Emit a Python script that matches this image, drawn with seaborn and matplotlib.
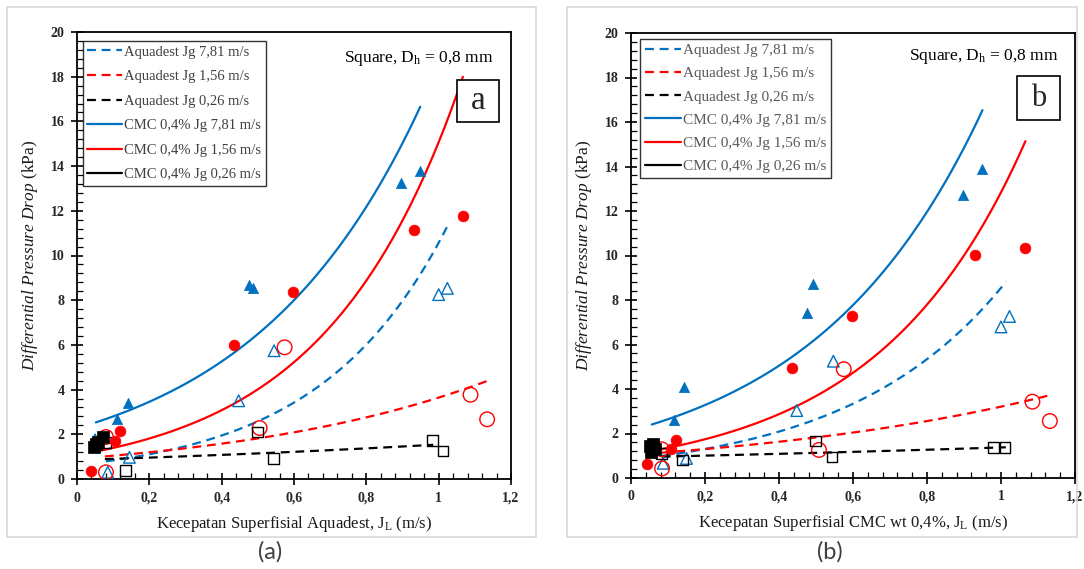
import numpy as np
import matplotlib
matplotlib.use("Agg")
import matplotlib.pyplot as plt
import seaborn as sns
from matplotlib.patches import Rectangle
from matplotlib.ticker import MultipleLocator, FuncFormatter
from matplotlib.lines import Line2D

sns.set_theme(style="white")
plt.rcParams['font.family'] = ['Liberation Serif', 'DejaVu Serif']
plt.rcParams['mathtext.fontset'] = 'custom'
plt.rcParams['mathtext.rm'] = 'Liberation Serif'
plt.rcParams['mathtext.it'] = 'Liberation Serif:italic'
plt.rcParams['mathtext.bf'] = 'Liberation Serif:bold'

# ---------------- data ----------------
labels = ["Aquadest Jg 7,81 m/s", "Aquadest Jg 1,56 m/s", "Aquadest Jg 0,26 m/s",
          "CMC 0,4% Jg 7,81 m/s", "CMC 0,4% Jg 1,56 m/s", "CMC 0,4% Jg 0,26 m/s"]

# panel (a)
a_aq781_x = [0.050, 0.085, 0.145, 0.447, 0.545, 1.000, 1.024]
a_aq781_y = [1.75, 0.30, 0.97, 3.50, 5.74, 8.25, 8.53]
a_aq156_x = [0.080, 0.080, 0.505, 0.574, 1.088, 1.134]
a_aq156_y = [0.30, 1.88, 2.28, 5.89, 3.77, 2.67]
a_aq026_x = [0.079, 0.135, 0.499, 0.543, 0.982, 1.012]
a_aq026_y = [1.64, 0.37, 2.10, 0.92, 1.71, 1.25]
a_cmc781_x = [0.110, 0.140, 0.475, 0.488, 0.895, 0.948]
a_cmc781_y = [2.70, 3.40, 8.70, 8.53, 13.25, 13.76]
a_cmc156_x = [0.040, 0.105, 0.119, 0.434, 0.597, 0.932, 1.067]
a_cmc156_y = [0.37, 1.70, 2.15, 6.00, 8.35, 11.15, 11.78]
a_cmc026_x = [0.047, 0.052, 0.057, 0.073]
a_cmc026_y = [1.45, 1.55, 1.65, 1.88]
# exponential trend lines y = A*exp(B*x), drawn from x0 to x1
a_trend_A = [0.63, 0.907, 0.85, 2.27, 1.068, 0.906]
a_trend_B = [2.82, 1.39, 0.597, 2.10, 2.647, 10.0]
a_trend_x0 = [0.080, 0.077, 0.077, 0.052, 0.041, 0.047]
a_trend_x1 = [1.026, 1.136, 0.985, 0.949, 1.067, 0.073]

# panel (b)
b_aq781_x = [0.087, 0.150, 0.448, 0.547, 1.000, 1.023]
b_aq781_y = [0.66, 0.88, 3.03, 5.25, 6.79, 7.26]
b_aq156_x = [0.084, 0.083, 0.508, 0.575, 1.085, 1.132]
b_aq156_y = [0.43, 1.29, 1.26, 4.89, 3.43, 2.56]
b_aq026_x = [0.083, 0.139, 0.499, 0.543, 0.980, 1.011]
b_aq026_y = [1.11, 0.81, 1.66, 0.94, 1.36, 1.36]
b_cmc781_x = [0.115, 0.144, 0.477, 0.491, 0.896, 0.949]
b_cmc781_y = [2.60, 4.09, 7.42, 8.74, 12.74, 13.87]
b_cmc156_x = [0.044, 0.109, 0.122, 0.435, 0.597, 0.930, 1.066]
b_cmc156_y = [0.63, 1.29, 1.71, 4.96, 7.30, 10.03, 10.33]
b_cmc026_x = [0.050, 0.055, 0.060, 0.065]
b_cmc026_y = [1.42, 1.18, 1.55, 1.30]
b_trend_A = [0.815, 1.038, 0.93, 2.13, 1.057, 0.57]
b_trend_B = [2.35, 1.128, 0.39, 2.157, 2.497, 14.9]
b_trend_x0 = [0.083, 0.083, 0.083, 0.056, 0.044, 0.050]
b_trend_x1 = [1.013, 1.134, 1.013, 0.950, 1.066, 0.065]

x_ticks = [0, 0.2, 0.4, 0.6, 0.8, 1.0, 1.2]
y_ticks = list(range(0, 21, 2))

# ---------------- styling ----------------
BLUE = "#0070C0"
RED = "#FF0000"
BLACK = "#000000"
line_colors = [BLUE, RED, BLACK, BLUE, RED, BLACK]
line_styles = [(0, (4, 2.6))] * 3 + ["-"] * 3


def fmt(v, pos):
    if abs(v) < 1e-9:
        return "0"
    if abs(v - round(v)) < 1e-9:
        return str(int(round(v)))
    return f"{v:.1f}".replace(".", ",")


fig = plt.figure(figsize=(10.84, 5.69), dpi=100)
fig.patch.set_facecolor("white")

# panel frames
for x0, x1 in [(7, 536), (567, 1077)]:
    fig.patches.append(Rectangle((x0 / 1084, 1 - 537 / 569), (x1 - x0) / 1084, 530 / 569,
                                 transform=fig.transFigure, fill=False,
                                 ec="#d9d9d9", lw=1.2, zorder=0))

axA = fig.add_axes([77 / 1084, 1 - 479 / 569, 434 / 1084, 447 / 569])
axB = fig.add_axes([631 / 1084, 1 - 478 / 569, 444 / 1084, 445 / 569])

panels = [
    (axA, [(a_aq781_x, a_aq781_y), (a_aq156_x, a_aq156_y), (a_aq026_x, a_aq026_y),
           (a_cmc781_x, a_cmc781_y), (a_cmc156_x, a_cmc156_y), (a_cmc026_x, a_cmc026_y)],
     (a_trend_A, a_trend_B, a_trend_x0, a_trend_x1),
     r"Kecepatan Superfisial Aquadest, J$_\mathrm{L}$ (m/s)", "a", "#404040",
     (83, 41), (419, 58), (457, 80, 42, 42), 24, 10.5, 0.78),
    (axB, [(b_aq781_x, b_aq781_y), (b_aq156_x, b_aq156_y), (b_aq026_x, b_aq026_y),
           (b_cmc781_x, b_cmc781_y), (b_cmc156_x, b_cmc156_y), (b_cmc026_x, b_cmc026_y)],
     (b_trend_A, b_trend_B, b_trend_x0, b_trend_x1),
     r"Kecepatan Superfisial CMC wt 0,4%, J$_\mathrm{L}$ (m/s)", "b", "#595959",
     (640, 39), (984, 57), (1017, 76, 43, 44), 22, 11, 0.62),
]

marker_specs = [
    dict(marker="^", s=70, facecolors="none", edgecolors=BLUE, linewidths=1.0),
    dict(marker="o", s=110, facecolors="none", edgecolors=RED, linewidths=1.0),
    dict(marker="s", s=60, facecolors="none", edgecolors=BLACK, linewidths=1.0),
    dict(marker="^", s=55, color=BLUE, edgecolor=BLUE, linewidth=0.5),
    dict(marker="o", s=60, color=RED, edgecolor=RED, linewidth=0.5),
    dict(marker="s", s=75, color=BLACK, edgecolor=BLACK, linewidth=0.5),
]

for (ax, series, trend, xlabel, tag, legcol, legpos, notepos, box, tagfs,
     legfs, legsp) in panels:
    A, B, X0, X1 = trend
    ox, oy = ax.get_position().x0 * 1084, (1 - ax.get_position().y1) * 569
    pw, ph = ax.get_position().width * 1084, ax.get_position().height * 569
    # trend lines
    handles = []
    for i in range(6):
        xs = np.linspace(X0[i], X1[i], 120)
        ys = A[i] * np.exp(B[i] * xs)
        sns.lineplot(x=xs, y=ys, ax=ax, color=line_colors[i], linestyle=line_styles[i],
                     lw=1.6, estimator=None, sort=False, zorder=2)
        handles.append(Line2D([], [], color=line_colors[i], linestyle=line_styles[i], lw=1.6))
    # markers
    for i in range(6):
        x, y = series[i]
        sns.scatterplot(x=x, y=y, ax=ax, zorder=3 + (i >= 3), **marker_specs[i])

    ax.set_xlim(0, 1.2)
    ax.set_ylim(0, 20)
    ax.set_xticks(x_ticks)
    ax.set_yticks(y_ticks)
    ax.xaxis.set_minor_locator(MultipleLocator(0.04))
    ax.yaxis.set_minor_locator(MultipleLocator(0.4))
    ax.xaxis.set_major_formatter(FuncFormatter(fmt))
    ax.yaxis.set_major_formatter(FuncFormatter(fmt))
    ax.tick_params(which="major", direction="inout", length=8, width=1.2, color="black",
                   labelsize=10, bottom=True, left=True, top=False, right=False, pad=5)
    ax.tick_params(which="minor", direction="in", length=4, width=0.9, color="black",
                   bottom=True, left=True, top=False, right=False)
    for lab in ax.get_xticklabels() + ax.get_yticklabels():
        lab.set_fontweight("bold")
    for sp in ax.spines.values():
        sp.set_color("black")
        sp.set_linewidth(1.3)
        sp.set_visible(True)

    ax.set_xlabel(xlabel, fontsize=12, labelpad=7, color="#1a1a1a")
    ax.set_ylabel(r"$\mathit{Differential\ Pressure\ Drop}$ (kPa)", fontsize=12.5,
                  labelpad=8, color="#1a1a1a")

    leg = ax.legend(handles, labels, loc="upper left",
                    bbox_to_anchor=((legpos[0] - ox) / pw, 1 - (legpos[1] - oy) / ph),
                    borderaxespad=0, frameon=True, fancybox=False, fontsize=legfs,
                    handlelength=2.4, handletextpad=0.12, labelspacing=legsp,
                    borderpad=0.3)
    leg.get_frame().set_edgecolor("black")
    leg.get_frame().set_linewidth(1.0)
    for t in leg.get_texts():
        t.set_color(legcol)

    ax.text((notepos[0] - ox) / pw, 1 - (notepos[1] - oy) / ph,
            r"Square, D$_\mathrm{h}$ = 0,8 mm", transform=ax.transAxes,
            ha="center", va="center", fontsize=12.5, color="black")

    bx, by, bw, bh = box
    ax.add_patch(Rectangle(((bx - ox) / pw, 1 - (by + bh - oy) / ph), bw / pw, bh / ph,
                           transform=ax.transAxes, fc="white", ec="black", lw=1.2, zorder=6))
    ax.text((bx + bw / 2 - ox) / pw, 1 - (by + bh / 2 - oy) / ph, tag,
            transform=ax.transAxes, ha="center", va="center", fontsize=tagfs, zorder=7)

for cx, cap in [(270, "(a)"), (830, "(b)")]:
    fig.text(cx / 1084, 1 - 552 / 569, cap, ha="center", va="center", fontsize=17,
             family=["Lato", "DejaVu Sans"], fontweight="normal", color="#404040")

fig.savefig("out.png", dpi=100, facecolor="white")
